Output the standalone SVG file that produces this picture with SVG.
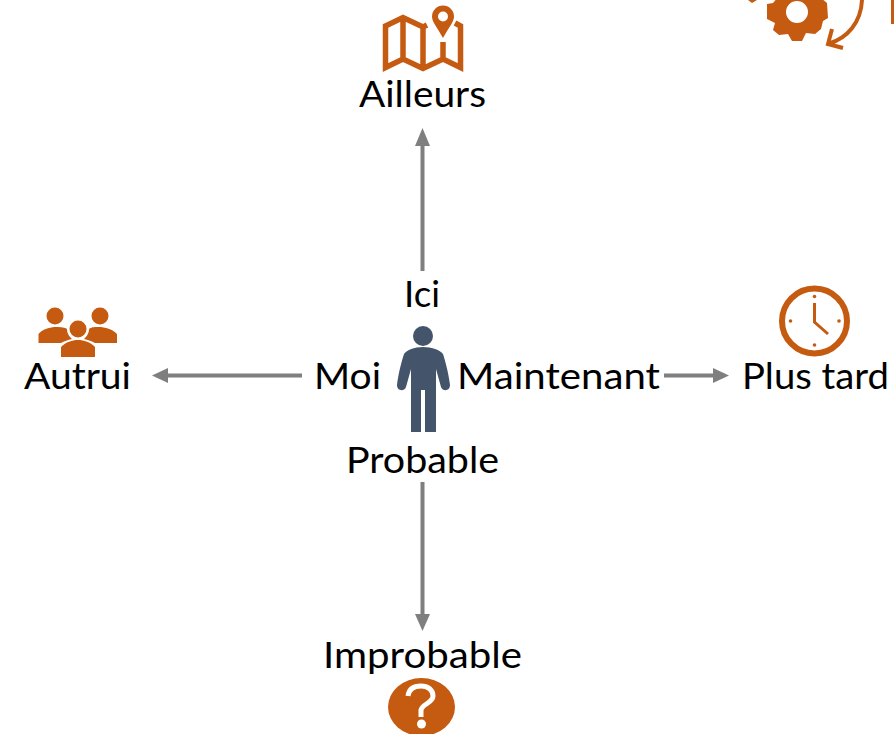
<svg xmlns="http://www.w3.org/2000/svg" width="894" height="734" viewBox="0 0 894 734">
<style>
text{font-family:"Lato","Carlito","Open Sans",sans-serif;font-size:36.500px;fill:#000;text-anchor:middle}
.o{fill:#c55a11}
.os{fill:none;stroke:#c55a11;stroke-linecap:butt;stroke-linejoin:miter}
.c{fill:none;stroke:#7f7f7f;stroke-width:4}
.h{fill:#7f7f7f}
</style>
<rect width="894" height="734" fill="#fff"/>
<g id="connectors">
<path class="c" d="M422.500 271V142"/><path class="h" d="M422.500 128L430 146H415Z"/>
<path class="c" d="M302 375.500H164"/><path class="h" d="M152 375.500L168 368V383Z"/>
<path class="c" d="M664 375.500H716"/><path class="h" d="M729 375.500L713 368V383Z"/>
<path class="c" d="M422.500 482V618"/><path class="h" d="M422.500 631L415 614H430Z"/>
</g>
<g id="node-ailleurs">
<path class="os" stroke-width="5.500" d="M427 25L423 27L403 17.500L385.500 26V67.500L403 59L423 68.500L443 59L460.500 67.500V26L455 23M403 17.500V59M423 27V68.500M443 42V59"/>
<path class="o" fill-rule="evenodd" d="M443 38C437 27 432 22 432 16.500A11 11 0 0 1 454 16.500C454 22 449 27 443 38ZM443 11.500A5 5 0 1 0 443 21.500A5 5 0 1 0 443 11.500Z"/>
<text x="422.500" y="107" textLength="127" lengthAdjust="spacingAndGlyphs">Ailleurs</text>
</g>
<g id="node-autrui">
<circle class="o" cx="55" cy="316" r="8.500"/><circle class="o" cx="100" cy="316" r="8.500"/><circle class="o" cx="78" cy="329" r="8.500"/>
<path class="o" d="M38.500 343V334C42 329 52 326.500 58 327C63 327 66 328 67 329C67 334 70 337 72 339C68 340 64 341 61 343Z"/>
<path class="o" d="M117 343V334C113 329 103 326.500 97 327C92 327 90 328 89 329C89 334 86 337 84 339C88 340 92 341 95 343Z"/>
<path class="o" d="M61 357V347C66 342 72 340 78 340C84 340 90 342 95 347V357Z"/>
<text x="77.500" y="389" textLength="107" lengthAdjust="spacingAndGlyphs">Autrui</text>
</g>
<g id="node-me">
<circle cx="423" cy="336" r="10" fill="#44546a"/>
<path fill="#44546a" d="M423 347C432 347 440 350 443 354C446 363 449 376 450 385C450 391 443 392 441 387L436 369V432H425V390H421V432H411V369L406 387C404 392 397 391 397 385C398 376 401 363 404 354C407 350 414 347 423 347Z"/>
<text x="422" y="307" textLength="36" lengthAdjust="spacingAndGlyphs">Ici</text>
<text x="347.500" y="389" textLength="67" lengthAdjust="spacingAndGlyphs">Moi</text>
<text x="558.500" y="389" textLength="203" lengthAdjust="spacingAndGlyphs">Maintenant</text>
<text x="422.500" y="473" textLength="153" lengthAdjust="spacingAndGlyphs">Probable</text>
</g>
<g id="node-plus-tard">
<circle cx="814.500" cy="321" r="32.500" fill="none" stroke="#c55a11" stroke-width="6"/>
<path class="os" stroke-width="3" d="M814.500 303V322L828 334"/>
<circle class="o" cx="814.500" cy="296.500" r="1.800"/><circle class="o" cx="814.500" cy="345" r="1.800"/><circle class="o" cx="790.500" cy="321" r="1.800"/><circle class="o" cx="839" cy="321" r="1.800"/>
<text x="815.500" y="389" textLength="147" lengthAdjust="spacingAndGlyphs">Plus tard</text>
</g>
<g id="node-improbable">
<text x="422.500" y="668" textLength="199" lengthAdjust="spacingAndGlyphs">Improbable</text>
<ellipse class="o" cx="421.500" cy="707" rx="33.500" ry="29"/>
<path fill="none" stroke="#fff" stroke-width="5" d="M408 696C409 688 415 686 421 686C428 686 433 690 433 696C433 703 422 704 421 710V717"/>
<circle cx="421.500" cy="724" r="4.500" fill="#fff"/>
</g>
<g id="node-gear">
<path class="o" fill-rule="evenodd" d="M792 -6H802L806 -4L821 -2L827 3L828 18L823 21L821 29L815 34L806 33L802 41L792 41L788 34L779 35L773 30L775 23L767 19V4L773 3L779 -4L788 -4ZM797 1A10.500 10.500 0 1 0 797 23A10.500 10.500 0 1 0 797 1Z"/>
<path class="o" d="M748 0H757L752 3Z"/>
<path class="os" stroke-width="4" stroke-linecap="round" d="M862 0C861 22 848 38 828 44M832 29L828 44L843 48"/>
<rect class="o" x="891" y="0" width="3" height="24"/>
</g>
</svg>
